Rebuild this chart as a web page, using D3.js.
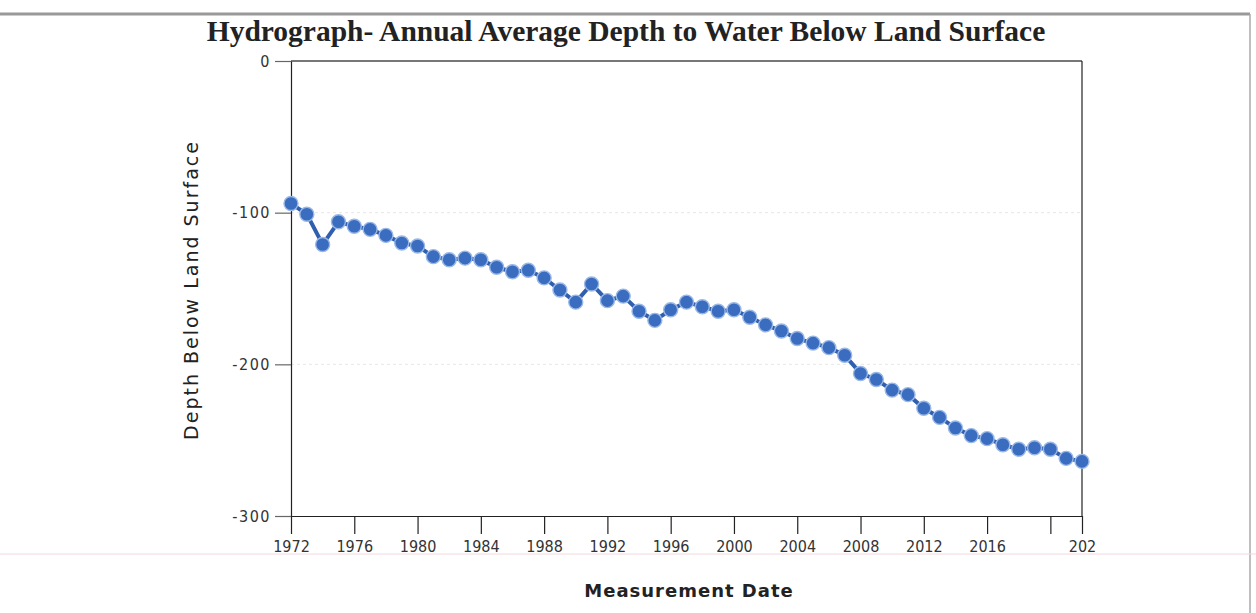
<!DOCTYPE html>
<html>
<head>
<meta charset="utf-8">
<script src="https://cdn.jsdelivr.net/npm/d3@7"></script>
<style>
  body { margin: 0; background: #fff; }
  svg { display: block; }
  .tick text { fill: #333; }
</style>
</head>
<body>
<div id="chart"></div>
<script>
const years = [
  1972, 1973, 1974, 1975, 1976, 1977, 1978, 1979, 1980, 1981,
  1982, 1983, 1984, 1985, 1986, 1987, 1988, 1989, 1990, 1991,
  1992, 1993, 1994, 1995, 1996, 1997, 1998, 1999, 2000, 2001,
  2002, 2003, 2004, 2005, 2006, 2007, 2008, 2009, 2010, 2011,
  2012, 2013, 2014, 2015, 2016, 2017, 2018, 2019, 2020, 2021, 2022
];
const depths = [
  -94, -101, -121, -106, -109, -111, -115, -120, -122, -129,
  -131, -130, -131, -136, -139, -138, -143, -151, -159, -147,
  -158, -155, -165, -171, -164, -159, -162, -165, -164, -169,
  -174, -178, -183, -186, -189, -194, -206, -210, -217, -220,
  -229, -235, -242, -247, -249, -253, -256, -255, -256, -262, -264
];
const xTicks = [1972, 1976, 1980, 1984, 1988, 1992, 1996, 2000, 2004, 2008, 2012, 2016, 2020, 2022];
const xTickLabels = ["1972", "1976", "1980", "1984", "1988", "1992", "1996", "2000", "2004", "2008", "2012", "2016", "", "202"];
const yTicks = [0, -100, -200, -300];
const yTickLabels = ["0", "-100", "-200", "-300"];

const W = 1256, H = 613;
const plot = { left: 291, right: 1082, top: 61, bottom: 516 };

const svg = d3.select("#chart").append("svg")
    .attr("width", W)
    .attr("height", H);

svg.append("rect").attr("width", W).attr("height", H).attr("fill", "#fff");

// scan frame bits around the screenshot
svg.append("line").attr("x1", 0).attr("x2", 1250).attr("y1", 14).attr("y2", 14)
    .attr("stroke", "#999").attr("stroke-width", 3);
svg.append("line").attr("x1", 1250).attr("x2", 1250).attr("y1", 14).attr("y2", 613)
    .attr("stroke", "#aaa").attr("stroke-width", 1.5);
svg.append("line").attr("x1", 0).attr("x2", W).attr("y1", 554).attr("y2", 554)
    .attr("stroke", "#f3d6dc").attr("stroke-width", 1);

const x = d3.scaleLinear().domain([1972, 2022]).range([plot.left, plot.right]);
const y = d3.scaleLinear().domain([0, -300]).range([plot.top, plot.bottom]);

// title
svg.append("text")
    .attr("x", 626).attr("y", 41)
    .attr("text-anchor", "middle")
    .style("font-family", "'Liberation Serif', 'Times New Roman', serif")
    .style("font-weight", "bold")
    .style("font-size", "29.5px")
    .attr("fill", "#222")
    .text("Hydrograph- Annual Average Depth to Water Below Land Surface");

// faint gridlines
svg.append("g").selectAll("line")
    .data([-100, -200])
    .join("line")
    .attr("x1", plot.left).attr("x2", plot.right)
    .attr("y1", d => y(d)).attr("y2", d => y(d))
    .attr("stroke", "#e6e6e6")
    .attr("stroke-dasharray", "3,3");

// top and right frame
svg.append("line").attr("x1", plot.left).attr("x2", plot.right).attr("y1", plot.top).attr("y2", plot.top)
    .attr("stroke", "#777").attr("stroke-width", 2);
svg.append("line").attr("x1", plot.right).attr("x2", plot.right).attr("y1", plot.top).attr("y2", plot.bottom)
    .attr("stroke", "#222").attr("stroke-width", 1.2);

// axes
const yAxis = d3.axisLeft(y)
    .tickValues(yTicks)
    .tickSize(16)
    .tickSizeOuter(0)
    .tickPadding(4)
    .tickFormat((d, i) => yTickLabels[i]);

const xAxis = d3.axisBottom(x)
    .tickValues(xTicks)
    .tickSize(18)
    .tickSizeOuter(0)
    .tickPadding(7)
    .tickFormat((d, i) => xTickLabels[i]);

const gy = svg.append("g")
    .attr("transform", `translate(${plot.left},0)`)
    .call(yAxis);
const gx = svg.append("g")
    .attr("transform", `translate(0,${plot.bottom})`)
    .call(xAxis);

[gx, gy].forEach(g => {
    g.selectAll("path, line").attr("stroke", "#222").attr("stroke-width", 1.2);
    g.selectAll("text")
        .style("font-family", "'DejaVu Sans Condensed', 'DejaVu Sans', sans-serif")
        .style("font-size", "16px");
});
gy.selectAll("text").attr("letter-spacing", "1.5px");
gy.selectAll(".tick line").attr("stroke", "#666");

// axis titles
svg.append("text")
    .attr("transform", "translate(198,290) rotate(-90)")
    .attr("text-anchor", "middle")
    .style("font-family", "'DejaVu Sans', sans-serif")
    .style("font-size", "19px")
    .attr("letter-spacing", "2px")
    .attr("fill", "#222")
    .text("Depth Below Land Surface");

svg.append("text")
    .attr("x", 689).attr("y", 597)
    .attr("text-anchor", "middle")
    .style("font-family", "'DejaVu Sans', sans-serif")
    .style("font-size", "18px")
    .style("font-weight", "bold")
    .attr("letter-spacing", "1px")
    .attr("fill", "#222")
    .text("Measurement Date");

// series
const data = years.map((yr, i) => ({ year: yr, depth: depths[i] }));

svg.append("path")
    .datum(data)
    .attr("fill", "none")
    .attr("stroke", "#2f5fae")
    .attr("stroke-width", 4)
    .attr("d", d3.line().x(d => x(d.year)).y(d => y(d.depth)));

svg.append("g").selectAll("circle")
    .data(data)
    .join("circle")
    .attr("cx", d => x(d.year))
    .attr("cy", d => y(d.depth))
    .attr("r", 7)
    .attr("fill", "#3a6cc0")
    .attr("stroke", "#9ab8e6")
    .attr("stroke-width", 1.4);
</script>
</body>
</html>
